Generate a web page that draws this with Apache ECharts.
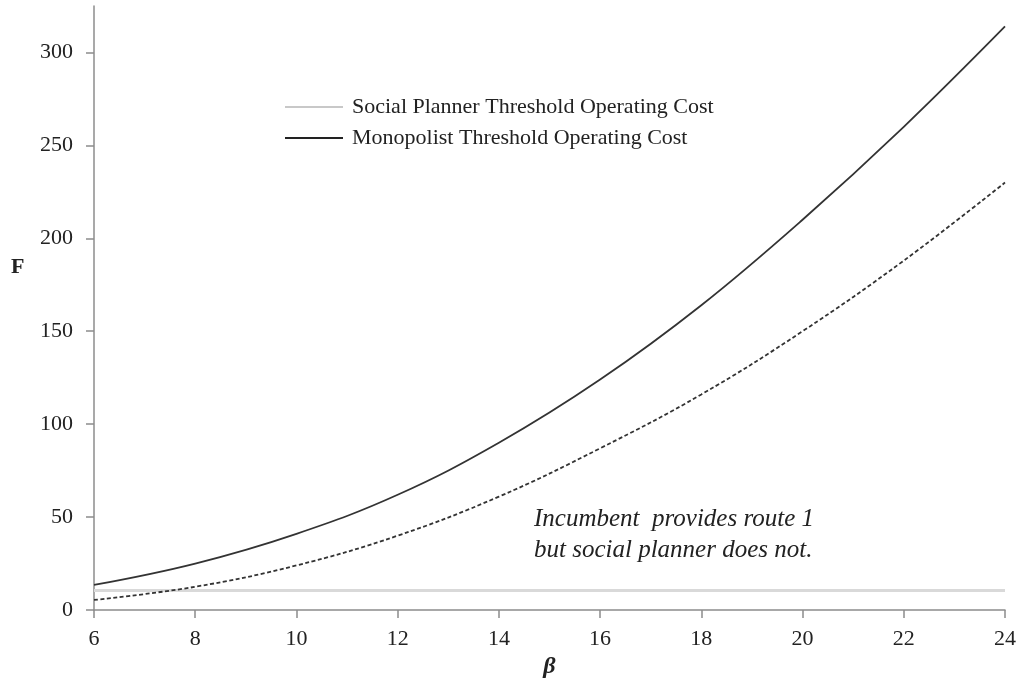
<!DOCTYPE html>
<html>
<head>
<meta charset="utf-8">
<script src="https://cdn.jsdelivr.net/npm/echarts@6/dist/echarts.min.js"></script>
<style>html,body{margin:0;padding:0;background:#fff;}#c{width:1022px;height:679px;}</style>
</head>
<body>
<div id="c"></div>
<script>
const betaValues = [6, 8, 10, 12, 14, 16, 18, 20, 22, 24];
const monopolistCost = [13.5, 25, 41, 62, 90, 124, 164, 210, 260, 314];
const dashedCost = [5.4, 12.5, 24, 40, 61, 87, 116, 150, 188, 230];
const socialPlannerCost = [10.5, 10.5, 10.5, 10.5, 10.5, 10.5, 10.5, 10.5, 10.5, 10.5];
const yTickValues = [0, 50, 100, 150, 200, 250, 300];
const seriesNames = ['Social Planner Threshold Operating Cost', 'Monopolist Threshold Operating Cost'];
const noteLines = ['Incumbent  provides route 1', 'but social planner does not.'];

const pairs = (xs, ys) => xs.map((x, i) => [x, ys[i]]);
const serif = '"Liberation Serif", "DejaVu Serif", serif';
const axisGray = '#8c8c8c';

const chart = echarts.init(document.getElementById('c'));
chart.setOption({
  backgroundColor: '#fff',
  animation: false,
  grid: { left: 94, right: 17, top: 6, bottom: 69, containLabel: false, outerBoundsMode: 'none' },
  legend: {
    orient: 'vertical',
    left: 280,
    top: 90,
    itemWidth: 58,
    itemHeight: 2,
    itemGap: 7,
    icon: 'rect',
    textStyle: { fontFamily: serif, fontSize: 22, color: '#222', lineHeight: 24, padding: [0, 0, 0, 4] },
    data: [
      { name: seriesNames[0], itemStyle: { color: '#c8c8c8' } },
      { name: seriesNames[1], itemStyle: { color: '#222' } }
    ]
  },
  xAxis: {
    type: 'value',
    min: 6,
    max: 24,
    interval: 2,
    name: 'β',
    nameLocation: 'middle',
    nameGap: 44,
    nameTextStyle: { fontFamily: serif, fontSize: 24, fontWeight: 'bold', fontStyle: 'italic', color: '#222' },
    axisLine: { show: true, lineStyle: { color: axisGray, width: 1.5 } },
    axisTick: { show: true, length: 8, inside: false, lineStyle: { color: axisGray, width: 1.5 } },
    axisLabel: { fontFamily: serif, fontSize: 22, color: '#222', margin: 18 },
    splitLine: { show: false }
  },
  yAxis: {
    type: 'value',
    min: 0,
    max: 325,
    axisLine: { show: true, lineStyle: { color: axisGray, width: 1.5 } },
    axisTick: { show: true, length: 8, customValues: yTickValues, lineStyle: { color: axisGray, width: 1.5 } },
    axisLabel: { fontFamily: serif, fontSize: 22, color: '#222', margin: 21, customValues: yTickValues },
    splitLine: { show: false }
  },
  series: [
    {
      name: seriesNames[0],
      type: 'line',
      data: pairs(betaValues, socialPlannerCost),
      symbol: 'none',
      lineStyle: { color: '#d9d9d9', width: 3 },
      itemStyle: { color: '#c8c8c8' },
      z: 1
    },
    {
      name: seriesNames[1],
      type: 'line',
      data: pairs(betaValues, monopolistCost),
      smooth: 0.4,
      symbol: 'none',
      lineStyle: { color: '#333', width: 1.8 },
      itemStyle: { color: '#222' },
      z: 3
    },
    {
      name: 'dashed',
      type: 'line',
      data: pairs(betaValues, dashedCost),
      smooth: 0.4,
      symbol: 'none',
      lineStyle: { color: '#333', width: 1.8, type: [4, 2.5] },
      z: 2
    }
  ],
  graphic: [
    {
      type: 'text',
      left: 534,
      top: 504,
      style: {
        text: noteLines.join('\n'),
        font: 'italic 25px ' + serif,
        fill: '#222',
        lineHeight: 31
      }
    },
    {
      type: 'text',
      left: 11,
      top: 256,
      style: {
        text: 'F',
        font: 'bold 22px ' + serif,
        fill: '#222'
      }
    }
  ]
});
</script>
</body>
</html>
